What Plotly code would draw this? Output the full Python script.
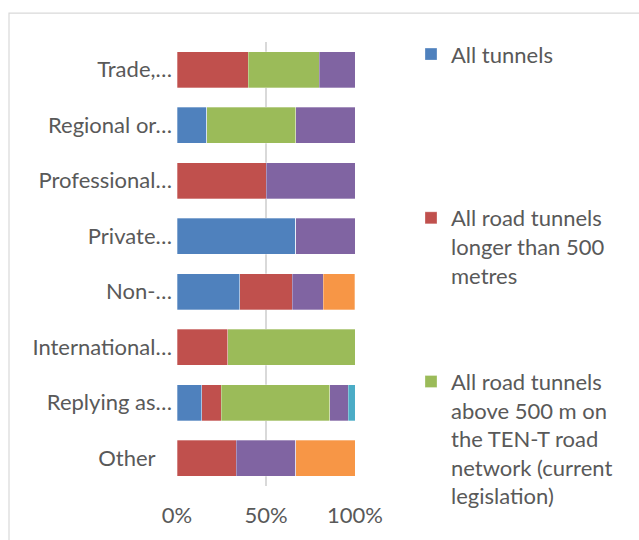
import plotly.graph_objects as go

categories = ["Trade,…", "Regional or…", "Professional…", "Private…",
              "Non-…", "International…", "Replying as…", "Other\u00a0\u00a0\u00a0"]

all_tunnels = [0, 16.7, 0, 66.7, 35.3, 0, 13.8, 0]
road_500 = [40, 0, 50, 0, 29.4, 28.6, 11.0, 33.3]
ten_t = [40, 50, 0, 0, 0, 71.4, 61.0, 0]
series4 = [20, 33.3, 50, 33.3, 17.6, 0, 10.3, 33.3]
series5 = [0, 0, 0, 0, 0, 0, 3.9, 0]
series6 = [0, 0, 0, 0, 17.6, 0, 0, 33.4]

x_tickvals = [0, 50, 100]
x_ticktext = ["0%", "50%", "100%"]

series = [
    ("All tunnels", all_tunnels, "#4F81BD", True, "legend"),
    ("All road tunnels<br>longer than 500<br>metres", road_500, "#C0504D", True, "legend2"),
    ("All road tunnels<br>above 500 m on<br>the TEN-T road<br>network (current<br>legislation)", ten_t, "#9BBB59", True, "legend3"),
    ("Series 4", series4, "#8064A2", False, "legend"),
    ("Series 5", series5, "#4BACC6", False, "legend"),
    ("Series 6", series6, "#F79646", False, "legend"),
]

TEXT = "#595959"
FONT = "Lato"

fig = go.Figure()
for name, vals, color, show, leg in series:
    fig.add_trace(go.Bar(
        y=categories, x=vals, name=name, orientation="h",
        marker=dict(color=color, line=dict(color="rgba(255,255,255,0.6)", width=0.5)),
        showlegend=show, legend=leg,
    ))

H_PLOT = 486.5 - 41.7
def py(px):
    return (486.5 - px) / H_PLOT

LX = (411 - 177) / 178
legend_common = dict(
    xanchor="left", yanchor="top", x=LX,
    font=dict(family=FONT, size=22, color=TEXT),
    bgcolor="rgba(0,0,0,0)", valign="top", borderwidth=0,
)

fig.update_layout(
    barmode="stack",
    bargap=0.353,
    width=639, height=540,
    margin=dict(l=177, r=284, t=42, b=54, autoexpand=False),
    paper_bgcolor="white", plot_bgcolor="white",
    font=dict(family=FONT, size=22, color=TEXT),
    legend=dict(**legend_common, y=py(33)),
    legend2=dict(**legend_common, y=py(197)),
    legend3=dict(**legend_common, y=py(361)),
    xaxis=dict(
        range=[0, 100], tickvals=x_tickvals, ticktext=x_ticktext,
        showgrid=True, gridcolor="#D9D9D9", gridwidth=1.5,
        zeroline=False, showline=False, ticks="",
        ticklabelstandoff=14, automargin=False,
        tickfont=dict(family=FONT, size=22, color=TEXT),
    ),
    yaxis=dict(
        categoryorder="array", categoryarray=categories, autorange="reversed",
        showgrid=False, showline=False, ticks="", ticklabelstandoff=4,
        automargin=False,
        tickfont=dict(family=FONT, size=22, color=TEXT),
    ),
    shapes=[dict(
        type="rect", xref="paper", yref="paper",
        x0=(9 - 177) / 178, x1=3.5, y0=py(580), y1=py(12.7),
        line=dict(color="#D9D9D9", width=1.2), fillcolor="rgba(0,0,0,0)", layer="below",
    )],
)

fig.write_html(
    "out.html",
    config={"displayModeBar": False},
    post_script="document.body.style.margin='0';document.body.style.overflow='hidden';",
)
